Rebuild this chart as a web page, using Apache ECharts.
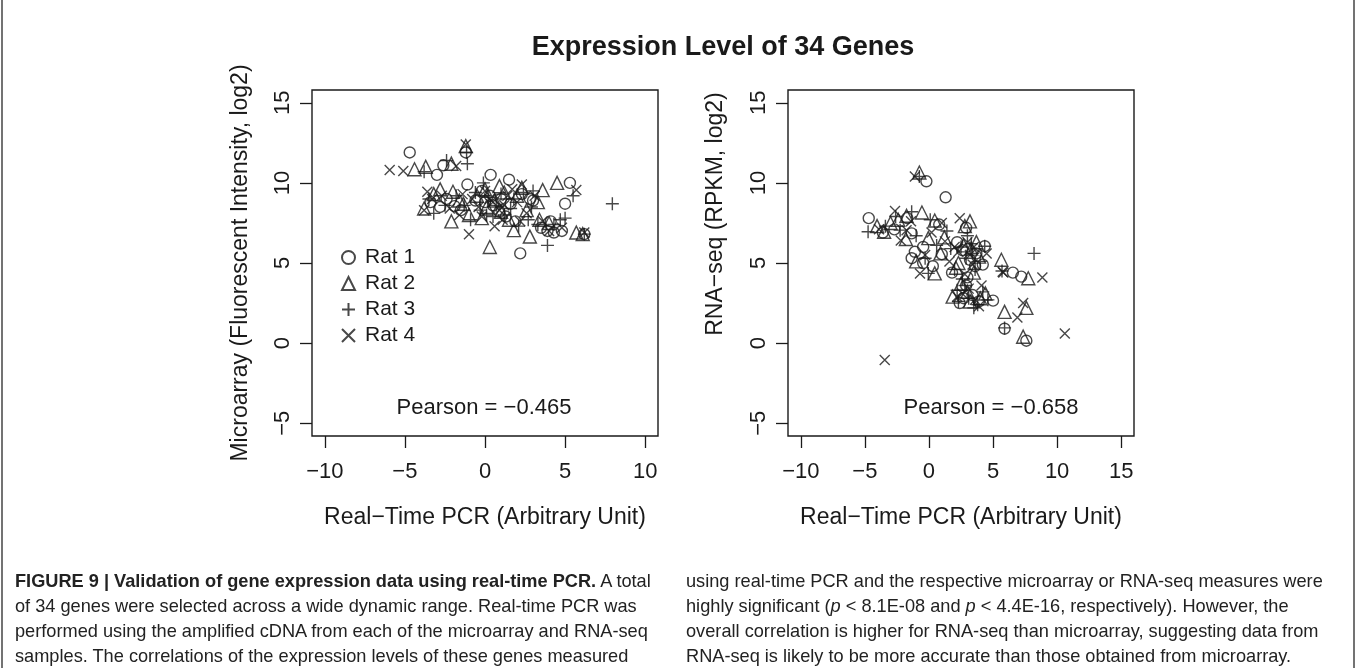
<!DOCTYPE html>
<html><head><meta charset="utf-8">
<script src="https://cdn.jsdelivr.net/npm/echarts@6/dist/echarts.min.js"></script>
<style>
html,body{margin:0;padding:0;background:#fff;overflow:hidden;}
#chart{position:absolute;left:0;top:0;width:1356px;height:668px;}
.cap{position:absolute;font-family:'Liberation Sans',Arial,sans-serif;font-size:18.2px;line-height:25px;color:#222;white-space:pre;}
.cap b{font-weight:bold;}
</style></head><body>
<div id="chart"></div>
<div class="cap" style="left:15px;top:569px;"><b>FIGURE 9 | Validation of gene expression data using real-time PCR.</b> A total
of 34 genes were selected across a wide dynamic range. Real-time PCR was
performed using the amplified cDNA from each of the microarray and RNA-seq
samples. The correlations of the expression levels of these genes measured</div>
<div class="cap" style="left:686px;top:569px;">using real-time PCR and the respective microarray or RNA-seq measures were
highly significant (<i>p</i> &lt; 8.1E-08 and <i>p</i> &lt; 4.4E-16, respectively). However, the
overall correlation is higher for RNA-seq than microarray, suggesting data from
RNA-seq is likely to be more accurate than those obtained from microarray.</div>
<script>
// ---------- data ----------
const chartTitle = 'Expression Level of 34 Genes';
const seriesNames = ['Rat 1', 'Rat 2', 'Rat 3', 'Rat 4'];
const leftXTicks = [-10, -5, 0, 5, 10];
const rightXTicks = [-10, -5, 0, 5, 10, 15];
const yTicks = [-5, 0, 5, 10, 15];
const leftPearson = 'Pearson = \u22120.465';
const rightPearson = 'Pearson = \u22120.658';
const rightYName = 'RNA\u2212seq (RPKM, log2)';

// Microarray vs real-time PCR  [pcr, microarray]
const microRat1 = [[-4.7,11.9],[-3.0,10.5],[-2.6,11.1],[-1.2,11.9],[-1.1,9.9],[0.35,10.5],[1.5,10.2],[5.3,10.0],[5.0,8.7],[-2.4,9.0],[-2.8,8.5],[-1.9,8.55],[2.2,5.6],[3.5,7.2],[3.9,7.0],[4.3,6.9],[4.8,7.0],[6.2,6.8],[0.0,8.8],[0.5,8.6],[1.0,9.0],[1.6,8.7],[-0.6,8.9],[2.3,9.3],[1.3,7.9],[0.9,8.2],[-1.5,8.3],[3.0,8.9],[-0.2,9.5],[1.9,7.6],[-3.4,8.8],[2.8,9.0],[0.3,9.2],[4.1,7.6]];
const microRat2 = [[-4.4,10.85],[-3.7,11.0],[-2.1,11.2],[-1.2,12.3],[-2.8,9.6],[-2.0,9.45],[-3.8,8.4],[-2.1,7.6],[-1.35,8.7],[0.9,9.8],[4.5,10.0],[3.6,9.55],[3.3,8.8],[0.3,6.0],[2.8,6.65],[1.8,7.05],[1.5,7.7],[3.4,7.7],[5.7,6.9],[-0.5,9.2],[0.1,8.5],[0.6,8.9],[1.2,9.4],[2.0,9.2],[-1.0,8.0],[2.6,8.3],[-3.2,9.3],[-0.2,7.8],[1.0,8.2],[4.0,7.5],[6.1,6.8],[2.3,9.7],[-1.6,8.9],[0.0,9.6]];
const microRat3 = [[-3.8,10.7],[-2.4,11.4],[-1.1,11.2],[-1.15,11.9],[-3.2,8.1],[-0.9,7.7],[5.5,9.2],[7.95,8.7],[3.9,6.1],[2.7,7.7],[4.7,7.7],[6.2,6.8],[-2.5,8.6],[-0.3,8.3],[0.2,9.1],[0.7,8.6],[1.2,8.0],[1.8,9.0],[-1.8,9.2],[2.4,9.4],[3.3,7.4],[0.5,7.9],[-0.6,9.4],[1.6,8.4],[3.0,9.5],[-3.5,9.0],[0.1,8.0],[2.1,7.3],[-1.3,8.6],[4.3,7.4],[1.0,9.3],[-0.1,10.0],[5.0,7.8],[2.9,8.5]];
const microRat4 = [[-5.95,10.8],[-5.1,10.75],[-1.8,11.05],[-1.2,12.4],[-3.6,9.45],[-3.8,8.3],[-1.6,8.0],[-1.0,6.8],[2.3,9.9],[5.7,9.55],[0.6,7.3],[6.2,6.9],[3.6,7.6],[-2.7,9.2],[-0.4,8.5],[0.3,9.0],[0.9,8.3],[1.4,9.2],[2.0,8.8],[-1.4,9.3],[0.0,9.5],[1.1,7.7],[3.1,9.2],[-2.2,8.4],[-0.8,9.0],[2.6,8.1],[0.5,8.8],[4.0,7.0],[1.7,9.6],[-3.3,9.0],[1.2,8.6],[-0.2,7.9],[4.8,7.2],[2.2,7.6]];

// RNA-seq vs real-time PCR  [pcr, rnaseq]
const rnaRat1 = [[-0.2,10.1],[1.3,9.1],[-4.7,7.8],[-1.7,7.8],[0.8,7.4],[2.9,7.2],[-1.35,6.85],[-0.45,6.0],[1.0,5.55],[-1.1,5.7],[-1.35,5.3],[-0.45,5.0],[4.35,6.05],[6.55,4.4],[7.2,4.15],[2.4,2.5],[5.0,2.65],[5.9,0.9],[7.6,0.15],[1.8,4.4],[2.6,5.8],[3.2,5.2],[3.6,4.8],[2.9,3.6],[3.4,3.0],[3.9,2.6],[4.2,4.9],[2.2,6.3],[3.0,4.1],[-2.7,7.1],[-3.6,6.9],[0.3,4.8],[2.7,2.8],[3.7,5.6]];
const rnaRat2 = [[-0.75,10.65],[-4.05,7.3],[-3.5,6.95],[-0.55,8.15],[-1.75,7.95],[0.45,7.65],[3.2,7.6],[-1.8,6.5],[-0.05,6.55],[0.45,4.35],[5.65,5.2],[7.75,4.05],[1.85,2.9],[5.9,1.95],[7.6,2.2],[7.35,0.4],[2.7,6.1],[3.3,5.9],[2.3,5.0],[3.5,4.4],[3.0,3.2],[4.0,2.8],[3.7,6.3],[2.5,3.7],[1.2,6.6],[-2.4,7.7],[3.9,5.4],[2.1,4.7],[4.4,3.1],[3.2,2.6],[-1.0,5.1],[0.9,5.6],[2.8,7.3],[-3.0,7.5]];
const rnaRat3 = [[-0.75,10.4],[-4.75,6.95],[-1.35,8.2],[0.1,7.7],[-2.25,7.05],[-0.05,4.35],[4.35,6.05],[5.7,4.5],[8.2,5.6],[5.9,0.95],[2.2,3.3],[2.9,5.3],[3.3,6.2],[3.6,4.6],[3.1,2.8],[3.8,2.4],[4.2,3.2],[2.6,4.0],[2.5,6.0],[-3.4,7.3],[-1.0,6.7],[0.6,6.1],[1.4,7.0],[3.4,5.6],[2.0,4.6],[4.0,5.1],[2.8,3.6],[3.5,2.2],[-0.3,5.3],[1.7,5.9],[3.0,6.7],[-2.6,7.9],[4.6,2.7],[2.3,2.6]];
const rnaRat4 = [[-1.1,10.4],[-3.9,7.1],[-2.65,8.25],[2.4,7.8],[-1.75,7.05],[1.25,6.35],[-0.7,4.35],[5.75,4.45],[8.85,4.1],[7.35,2.5],[6.9,1.6],[10.6,0.6],[-3.45,-1.05],[5.8,4.4],[2.3,5.7],[3.0,6.3],[3.4,4.9],[2.6,3.1],[3.6,2.7],[4.1,3.6],[2.0,6.0],[3.2,5.5],[2.8,4.3],[3.9,2.3],[-1.4,7.6],[0.2,6.9],[-0.3,5.5],[1.6,5.1],[3.5,6.0],[2.2,2.9],[4.5,5.6],[-2.2,6.4],[1.0,7.5],[3.1,3.4]];

// ---------- chart ----------
const FONT = "'Liberation Sans', Arial, Helvetica, sans-serif";
const INK = '#1a1a1a';
const minus = v => String(v).replace('-', '\u2212');

const symbolDefs = [
  {symbol: 'circle', size: 11},
  {symbol: 'triangle', size: 13},
  {symbol: 'path://M5,0L5,10M0,5L10,5', size: 13},
  {symbol: 'path://M0,0L10,10M10,0L0,10', size: 10}
];
const leftData = [microRat1, microRat2, microRat3, microRat4];
const rightData = [rnaRat1, rnaRat2, rnaRat3, rnaRat4];

function makeXAxis(gi, min, max, ticks) {
  return {
    gridIndex: gi, type: 'value', min: min, max: max,
    axisLine: {show: false, onZero: false},
    splitLine: {show: false},
    axisTick: {show: true, inside: false, length: 12, customValues: ticks, lineStyle: {color: INK, width: 1.3}},
    axisLabel: {customValues: ticks, formatter: minus, fontSize: 22, fontFamily: FONT, color: INK, margin: 25},
    name: 'Real\u2212Time PCR (Arbitrary Unit)', nameLocation: 'middle', nameGap: 70,
    nameTextStyle: {fontSize: 23, fontFamily: FONT, color: INK}
  };
}
function makeYAxis(gi, name) {
  return {
    gridIndex: gi, type: 'value', min: -5.8, max: 15.8,
    axisLine: {show: false, onZero: false},
    splitLine: {show: false},
    axisTick: {show: true, inside: false, length: 12, customValues: yTicks, lineStyle: {color: INK, width: 1.3}},
    axisLabel: {customValues: yTicks, formatter: minus, rotate: 90, fontSize: 22, fontFamily: FONT, color: INK, margin: 18},
    name: name, nameLocation: 'middle', nameGap: 60, nameRotate: 90,
    nameTextStyle: {fontSize: 23, fontFamily: FONT, color: INK}
  };
}

const series = [];
[leftData, rightData].forEach((group, gi) => {
  group.forEach((pts, i) => {
    series.push({
      type: 'scatter', name: seriesNames[i], xAxisIndex: gi, yAxisIndex: gi,
      data: pts, symbol: symbolDefs[i].symbol, symbolSize: symbolDefs[i].size,
      itemStyle: {color: 'rgba(0,0,0,0)', borderColor: INK, borderWidth: 1.4},
      emphasis: {disabled: true}, silent: true
    });
  });
});

const chart = echarts.init(document.getElementById('chart'), null, {renderer: 'canvas'});
chart.setOption({
  animation: false,
  backgroundColor: '#fff',
  grid: [
    {left: 312, top: 90, width: 346, height: 346, show: true, borderColor: INK, borderWidth: 1.4, backgroundColor: 'transparent'},
    {left: 788, top: 90, width: 346, height: 346, show: true, borderColor: INK, borderWidth: 1.4, backgroundColor: 'transparent'}
  ],
  xAxis: [makeXAxis(0, -10.8, 10.8, leftXTicks), makeXAxis(1, -11, 16, rightXTicks)],
  yAxis: [makeYAxis(0, 'Microarray (Fluorescent Intensity, log2)'), makeYAxis(1, '')],
  legend: {
    data: seriesNames, orient: 'vertical', left: 336, top: 242,
    itemWidth: 13, itemHeight: 13, itemGap: 5,
    selectedMode: false,
    textStyle: {fontSize: 21, fontFamily: FONT, color: INK, padding: [0, 0, 0, 5]}
  },
  graphic: [
    {type: 'text', x: 723, y: 48, style: {text: chartTitle, font: "bold 27px 'Liberation Sans', Arial, sans-serif", fill: INK, textAlign: 'center', textVerticalAlign: 'middle'}},
    {type: 'text', x: 484, y: 408, style: {text: leftPearson, font: "22px 'Liberation Sans', Arial, sans-serif", fill: INK, textAlign: 'center', textVerticalAlign: 'middle'}},
    {type: 'text', x: 991, y: 408, style: {text: rightPearson, font: "22px 'Liberation Sans', Arial, sans-serif", fill: INK, textAlign: 'center', textVerticalAlign: 'middle'}},
    {type: 'text', x: 716, y: 214, rotation: Math.PI / 2, style: {text: rightYName, font: "23px 'Liberation Sans', Arial, sans-serif", fill: INK, textAlign: 'center', textVerticalAlign: 'middle'}},
    {type: 'line', shape: {x1: 2, y1: 0, x2: 2, y2: 668}, style: {stroke: '#444', lineWidth: 1.5}},
    {type: 'line', shape: {x1: 1354, y1: 0, x2: 1354, y2: 668}, style: {stroke: '#444', lineWidth: 1.5}}
  ],
  series: series
});
</script>
</body></html>
